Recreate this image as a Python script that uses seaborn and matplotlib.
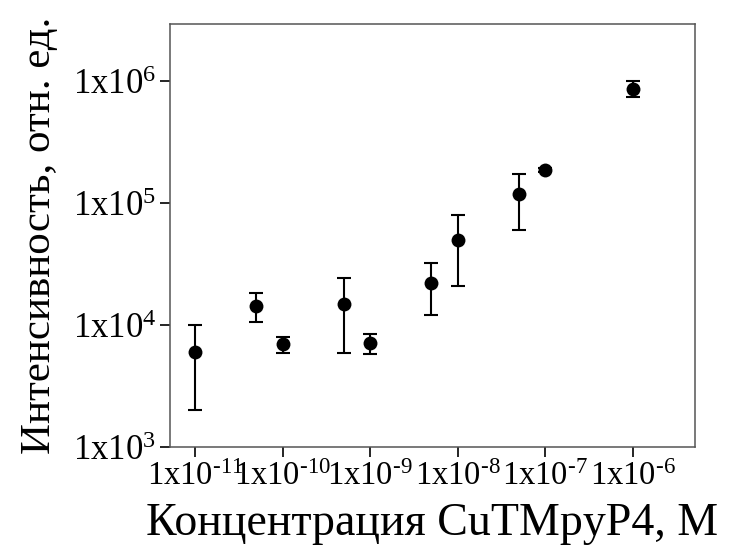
import matplotlib
matplotlib.use("Agg")
import matplotlib.pyplot as plt
import matplotlib.ticker as mticker
import numpy as np
import pandas as pd
import seaborn as sns

# Data
concentration = [1e-11, 5e-11, 1e-10, 5e-10, 1e-9, 5e-9, 1e-8, 5e-8, 1e-7, 1e-6]
intensity = [5970, 14300, 6980, 14900, 7160, 22200, 50000, 118000, 186000, 859000]
err_low = [2000, 10500, 5930, 5860, 5830, 12000, 20900, 60400, 180000, 740000]
err_high = [10000, 18300, 8000, 24100, 8440, 32200, 80200, 172000, 192000, 993000]

x_ticks = [1e-11, 1e-10, 1e-9, 1e-8, 1e-7, 1e-6]
y_ticks = [1e3, 1e4, 1e5, 1e6]

sns.set_style("ticks")
plt.rcParams['font.family'] = ['Liberation Serif', 'DejaVu Serif']
plt.rcParams['mathtext.fontset'] = 'custom'
plt.rcParams['mathtext.rm'] = 'Liberation Serif'
plt.rcParams['axes.unicode_minus'] = False
plt.rcParams['text.color'] = 'black'
plt.rcParams['axes.labelcolor'] = 'black'

df = pd.DataFrame({"c": concentration, "I": intensity})

fig = plt.figure(figsize=(7.29, 5.51), dpi=100)
ax = fig.add_axes([0.2332, 0.1887, 0.7202, 0.7677])

ax.set_xscale('log')
ax.set_yscale('log')

yerr = np.array([np.array(intensity) - np.array(err_low), np.array(err_high) - np.array(intensity)])
ax.errorbar(concentration, intensity, yerr=yerr, fmt='none', ecolor='black',
            elinewidth=1.5, capsize=5, capthick=1.5, zorder=2)
sns.scatterplot(data=df, x="c", y="I", ax=ax, color='black', s=100,
                edgecolor='black', linewidth=0, zorder=3, legend=False)

ax.set_xlim(10**-11.286, 10**-5.288)
ax.set_ylim(1e3, 10**6.467)

ax.xaxis.set_major_locator(mticker.FixedLocator(x_ticks))
ax.yaxis.set_major_locator(mticker.FixedLocator(y_ticks))
ax.xaxis.set_minor_locator(mticker.NullLocator())
ax.yaxis.set_minor_locator(mticker.NullLocator())

def fmt(v, pos):
    e = int(round(np.log10(v)))
    return r'$\mathregular{1x10^{\text{%d}}}$' % e

ax.xaxis.set_major_formatter(mticker.FuncFormatter(fmt))
ax.yaxis.set_major_formatter(mticker.FuncFormatter(fmt))

ax.tick_params(axis='both', which='major', direction='out', length=7, width=1.2,
               colors='black', top=False, right=False)
ax.tick_params(axis='x', pad=3, labelsize=23.5)
ax.tick_params(axis='y', pad=3, labelsize=25)
for s in ax.spines.values():
    s.set_linewidth(1.1)
    s.set_color('#555555')

ax.set_xlabel("Концентрация CuTMpyP4, M", fontsize=33, labelpad=8)
ax.set_ylabel("Интенсивность, отн. ед.", fontsize=31, labelpad=10)

fig.savefig("out.png", dpi=100)
